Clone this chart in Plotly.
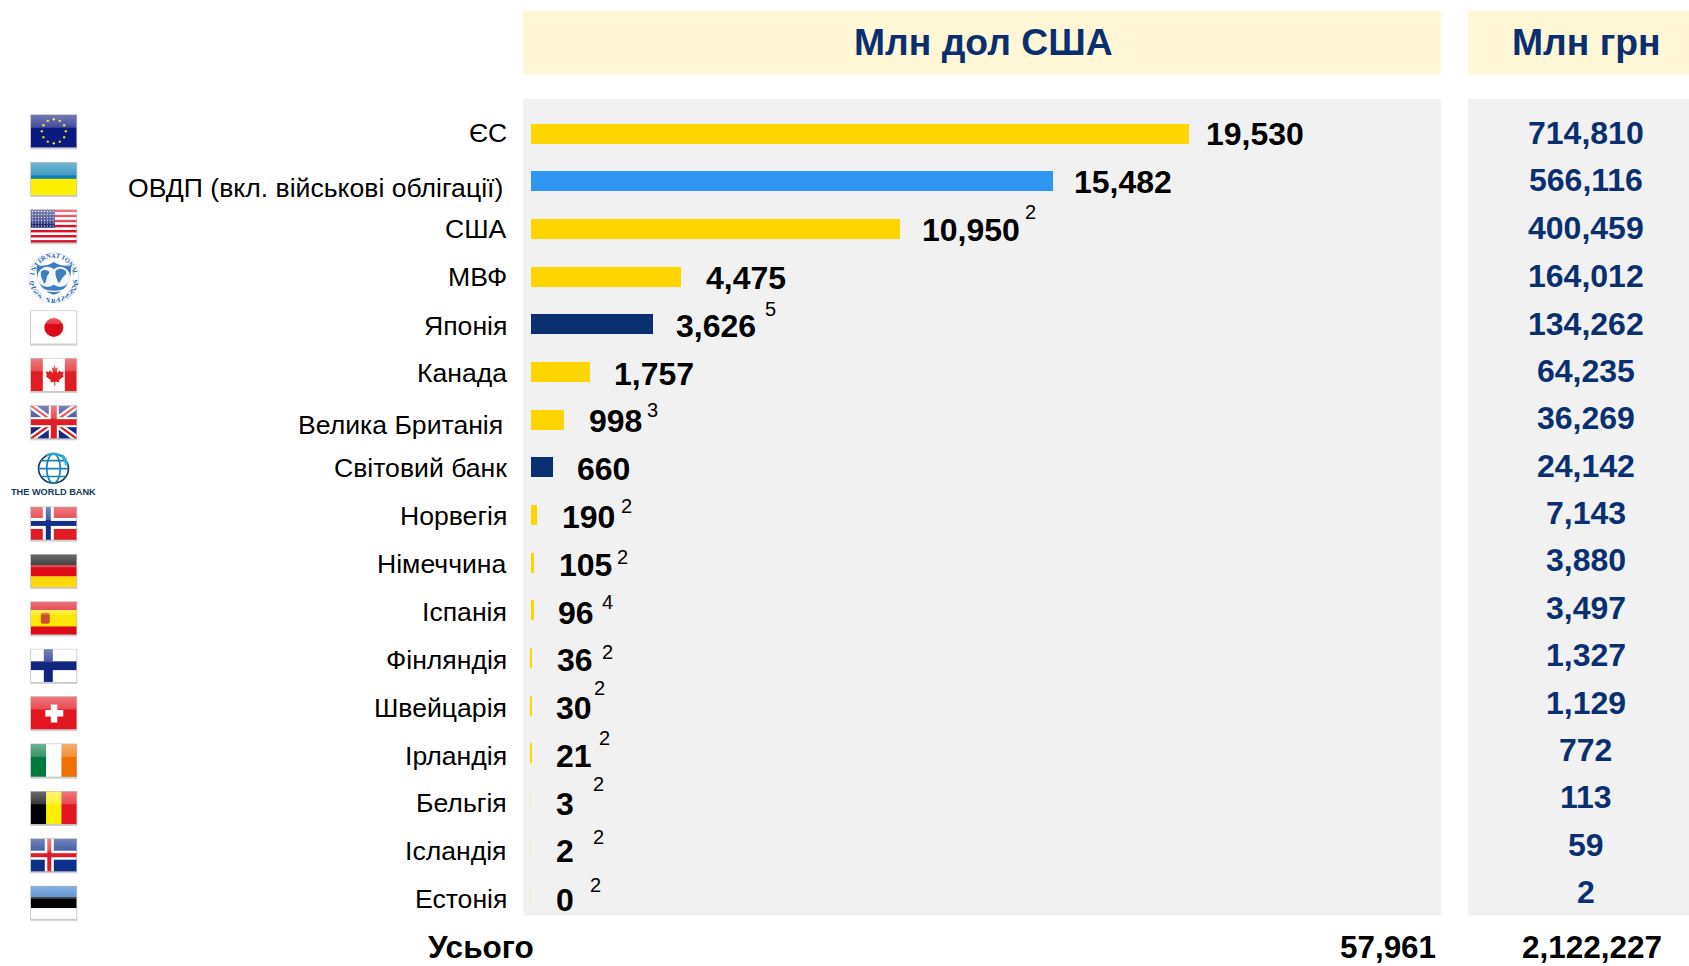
import base64
import math
import plotly.graph_objects as go

# ---------- data ----------
countries = ["ЄС", "ОВДП (вкл. військові облігації)", "США", "МВФ", "Японія", "Канада",
             "Велика Британія", "Світовий банк", "Норвегія", "Німеччина", "Іспанія",
             "Фінляндія", "Швейцарія", "Ірландія", "Бельгія", "Ісландія", "Естонія"]
usd_mln = [19530, 15482, 10950, 4475, 3626, 1757, 998, 660, 190, 105, 96, 36, 30, 21, 3, 2, 0]
uah_mln = [714810, 566116, 400459, 164012, 134262, 64235, 36269, 24142, 7143, 3880, 3497,
           1327, 1129, 772, 113, 59, 2]
footnotes = ["", "", "2", "", "5", "", "3", "", "2", "2", "4", "2", "2", "2", "2", "2", "2"]
bar_groups = ["g", "b", "g", "g", "n", "g", "g", "n", "g", "g", "g", "g", "g", "g", "p", "p", "p"]
total_label = "Усього"
total_usd = 57961
total_uah = 2122227
header_usd = "Млн дол США"
header_uah = "Млн грн"
world_bank_text = "THE WORLD BANK"
imf_top_text = "INTERNATIONAL"
imf_bottom_text = "MONETARY FUND"

# ---------- style / layout ----------
W, H = 1689, 966
S = W / 1568
GOLD, BLUE, NAVY, PALE = "#FFD500", "#2E96F0", "#0A2F70", "#F5EAC0"
group_color = {"g": GOLD, "b": BLUE, "n": NAVY, "p": PALE}
FONT = "Liberation Sans, Arial, sans-serif"
X0_PX, PX_PER_UNIT = 530.5, 0.03372
ROW0, ROW_STEP = 124 * S, 44.25 * S

label_y = [123.7, 174.7, 212.7, 257.3, 302.3, 346.3, 394.7, 434.7, 479.3, 523.7, 568.3, 612.3, 657.3, 702.3, 745.7, 790.3, 834.7]
label_right = [471, 467, 471, 471, 471, 471, 467, 471, 471, 471, 471, 471, 471, 471, 471, 471, 471]
value_gap = [14.5, 19, 19.3, 21.5, 21, 22, 21.7, 21.5, 22, 22, 21.7, 23, 22, 22, 22.7, 22.7, 22.7]
value_y = [124.3, 169.3, 213.3, 258, 303, 347, 391, 435, 480, 524.5, 569, 613, 657, 702, 746, 790, 835.3]
uah_y = [123.6, 167, 211.6, 256, 300.6, 344, 388, 432.6, 476, 520, 564, 608, 652.6, 696, 740, 784, 828]
note_x = [0, 0, 957, 0, 715, 0, 606, 0, 582, 577.5, 564, 564, 557, 561, 556, 556, 553]
note_y = [0, 0, 197, 0, 287, 0, 381, 0, 470, 517, 559, 605, 639, 685, 728, 777, 822]
flag_y = [122.3, 166.5, 210.4, 258, 304.4, 348.4, 392.4, 435, 486.4, 530.4, 574.4, 618.4, 662.4, 706.4, 750.4, 794.4, 838.4]


def px(x):
    return x / W


def py(y):
    return 1 - y / H


# ---------- flags as small SVG pictures ----------
def stripes_h(cols):
    h = 33 / len(cols)
    return "".join(f'<rect x="0" y="{i*h}" width="46" height="{h+.3}" fill="{c}"/>' for i, c in enumerate(cols))


def stripes_v(cols):
    w = 46 / len(cols)
    return "".join(f'<rect x="{i*w}" y="0" width="{w+.3}" height="33" fill="{c}"/>' for i, c in enumerate(cols))


def nordic(bg, cross_out, cross_in):
    s = f'<rect width="46" height="33" fill="{bg}"/>'
    if cross_out:
        s += f'<rect x="12" width="11" height="33" fill="{cross_out}"/><rect y="11" width="46" height="11" fill="{cross_out}"/>'
    s += f'<rect x="15" width="5" height="33" fill="{cross_in}"/><rect y="14" width="46" height="5" fill="{cross_in}"/>'
    return s


def eu():
    s = '<rect width="46" height="33" fill="#0A1A7E"/>'
    for i in range(12):
        a = i * math.pi / 6
        s += f'<circle cx="{23+12*math.cos(a):.2f}" cy="{16.5+12*math.sin(a):.2f}" r="1.2" fill="#F2D21A"/>'
    return s


def usa():
    s = stripes_h(["#D8142A", "#FFFFFF"] * 6 + ["#D8142A"])
    s += '<rect width="24" height="18" fill="#1E2A78"/>'
    for r in range(6):
        for c in range(8):
            s += f'<circle cx="{2+c*2.9}" cy="{1.8+r*2.9}" r=".6" fill="#fff"/>'
    return s


def canada():
    return ('<rect width="46" height="33" fill="#fff"/><rect width="12" height="33" fill="#E01C24"/>'
            '<rect x="34" width="12" height="33" fill="#E01C24"/>'
            '<path d="M23 6l2 4 2-1-1 6 3-3 1 2 3-1-1 4 1 1-5 4 .5 2-4-.6v4h-1v-4l-4 .6.5-2-5-4 1-1-1-4 3 1 1-2 3 3-1-6 2 1z" fill="#E01C24"/>')


def uk():
    return ('<rect width="46" height="33" fill="#1C2A80"/>'
            '<path d="M0 0L46 33M46 0L0 33" stroke="#fff" stroke-width="6.5"/>'
            '<path d="M0 0L46 33M46 0L0 33" stroke="#E01C24" stroke-width="2.2"/>'
            '<rect x="18" width="10" height="33" fill="#fff"/><rect y="11.5" width="46" height="10" fill="#fff"/>'
            '<rect x="20" width="6" height="33" fill="#E01C24"/><rect y="13.5" width="46" height="6" fill="#E01C24"/>')


def japan():
    return '<rect width="46" height="33" fill="#fff"/><circle cx="23" cy="16.5" r="9.5" fill="#DE0A18"/>'


def spain():
    return (stripes_h(["#DE0A18", "#FFE800", "#FFE800", "#DE0A18"]) +
            '<rect x="10" y="11" width="9" height="11" rx="2" fill="#C8502A"/>')


def swiss():
    return ('<rect width="46" height="33" fill="#E31520"/><rect x="20" y="8" width="6.5" height="18" fill="#fff"/>'
            '<rect x="14.5" y="13.5" width="18" height="6.5" fill="#fff"/>')


def iceland():
    return ('<rect width="46" height="33" fill="#0C2F8A"/><rect x="14" width="9" height="33" fill="#fff"/>'
            '<rect y="12" width="46" height="9" fill="#fff"/><rect x="16.5" width="4" height="33" fill="#E01C24"/>'
            '<rect y="14.5" width="46" height="4" fill="#E01C24"/>')


flag_bodies = {
    0: eu(), 1: stripes_h(["#0E7FB4", "#FFF000"]), 2: usa(), 4: japan(), 5: canada(), 6: uk(),
    8: nordic("#E01C24", "#fff", "#12308A"), 9: stripes_h(["#000", "#DE0A18", "#FFD80A"]), 10: spain(),
    11: nordic("#fff", None, "#12267E").replace('x="15" width="5"', 'x="13" width="9"').replace('y="14" width="46" height="5"', 'y="12" width="46" height="9"'),
    12: swiss(), 13: stripes_v(["#007A3D", "#fff", "#F07000"]), 14: stripes_v(["#000", "#FFEE00", "#E31520"]),
    15: iceland(), 16: stripes_h(["#2E75C8", "#000", "#fff"]),
}


def uri(svg):
    return "data:image/svg+xml;base64," + base64.b64encode(svg.encode()).decode()


def flag_uri(body):
    return uri(
        '<svg xmlns="http://www.w3.org/2000/svg" viewBox="-1 -1 48 36" width="48" height="36">'
        '<defs><linearGradient id="g" x1="0" y1="0" x2="0" y2="1"><stop offset="0" stop-color="#fff" stop-opacity=".42"/>'
        '<stop offset="1" stop-color="#fff" stop-opacity=".22"/></linearGradient></defs>'
        '<rect x="-.6" y="-.2" width="47.2" height="35" fill="#999" opacity=".45"/>'
        f'<svg x="0" y="0" width="46" height="33" viewBox="0 0 46 33">{body}</svg>'
        '<rect width="46" height="13" fill="url(#g)"/>'
        '<rect width="46" height="33" fill="none" stroke="#bbb" stroke-width=".4"/></svg>')


imf_svg = uri(
    '<svg xmlns="http://www.w3.org/2000/svg" viewBox="0 0 100 100" width="100" height="100">'
    '<circle cx="50" cy="50" r="49" fill="#fff"/>'
    '<circle cx="50" cy="50" r="47" fill="none" stroke="#5C8FCB" stroke-width="1.2" stroke-dasharray="1.5 2"/>'
    '<path d="M50 20C62 28 74 28 82 26C84 50 78 72 50 82C22 72 16 50 18 26C26 28 38 28 50 20z" fill="#3F7CC4"/>'
    '<circle cx="38" cy="48" r="19" fill="#F4F8FC"/><circle cx="62" cy="48" r="19" fill="#F4F8FC"/>'
    '<path d="M26 38c6-5 12-3 15 0 1 5-3 6-4 10-1 5-2 12-5 13-3-6-8-15-6-23z" fill="#3F7CC4"/>'
    '<path d="M54 36c6-5 14-4 19 2 2 6-4 8-7 12-3 3-4 10-7 9-3-6-8-17-5-23z" fill="#3F7CC4"/>'
    '<path d="M28 70c8 7 36 7 44 0" fill="none" stroke="#fff" stroke-width="2.5"/></svg>')

wb_svg = uri(
    '<svg xmlns="http://www.w3.org/2000/svg" viewBox="0 0 100 100" width="100" height="100">'
    '<g fill="none" stroke="#1B3F66" stroke-width="5">'
    '<circle cx="50" cy="50" r="44"/><ellipse cx="50" cy="50" rx="20" ry="44" stroke="#1B7FB8"/>'
    '<path d="M6 50H94M14 26H86M14 74H86" stroke="#1B7FB8"/>'
    '<path d="M74 10A44 44 0 0 1 88 40" stroke="#22B4E6" stroke-width="9"/>'
    '<path d="M30 10A44 44 0 0 1 70 10" stroke="#22A8DE" stroke-width="7"/></g></svg>')

images = []
for i, yy in enumerate(flag_y):
    if i == 3:
        src, w, h, cx = imf_svg, 53, 53, 53.8
    elif i == 7:
        src, w, h, cx = wb_svg, 34, 33, 53.5
    else:
        src, w, h, cx = flag_uri(flag_bodies[i]), 48, 36, 53.8
    cy = yy * S
    images.append(dict(source=src, xref="paper", yref="paper", x=px(cx - w / 2), y=py(cy - h / 2),
                       sizex=w / W, sizey=h / H, sizing="stretch", xanchor="left", yanchor="top", layer="above"))

# ---------- figure ----------
bar_line_w = [1 if v == 0 else 0 for v in usd_mln]
fig = go.Figure(go.Bar(
    y=list(range(len(countries))), x=usd_mln, orientation="h", width=20 / ROW_STEP,
    marker=dict(color=[group_color[g] for g in bar_groups], line=dict(width=bar_line_w, color=PALE)),
    hovertext=countries, hoverinfo="text+x"))


def note(text, x, y, size, color="#000", bold=False, anchor="center", family=FONT, angle=0):
    if bold:
        text = f"<b>{text}</b>"
    fig.add_annotation(text=text, xref="paper", yref="paper", x=px(x), y=py(y), xanchor=anchor, yanchor="middle",
                       showarrow=False, textangle=angle, font=dict(size=size, color=color, family=family),
                       borderpad=0, borderwidth=0)


for i, name in enumerate(countries):
    note(name, label_right[i] * S, label_y[i] * S, 26.6, anchor="right")
    fig.add_annotation(text=f"<b>{usd_mln[i]:,}</b>", x=usd_mln[i], y=i, xref="x", yref="y", xanchor="left",
                       yanchor="middle", xshift=value_gap[i] * S,
                       yshift=-(value_y[i] * S - (ROW0 + ROW_STEP * i)), showarrow=False,
                       font=dict(size=32, color="#000", family=FONT), borderpad=0)
    note(f"<b>{uah_mln[i]:,}</b>", 1472 * S, uah_y[i] * S, 32, color=NAVY)
    if footnotes[i]:
        note(footnotes[i], note_x[i] * S, note_y[i] * S, 20)

note(header_usd, 913 * S, 39 * S, 37.3, color=NAVY, bold=True)
note(header_uah, 1472.5 * S, 39 * S, 37.3, color=NAVY, bold=True)
note(total_label, 446.5 * S, 879.5 * S, 31.5, bold=True)
note(f"{total_usd:,}", 1333.5 * S, 879.5 * S, 31.4, bold=True, anchor="right")
note(f"{total_uah:,}", 1478 * S, 879.5 * S, 31.5, bold=True)
note(world_bank_text, 53.5, 491.5, 9.2, color="#123A5C", bold=True)

# ring lettering of the IMF seal, one small rotated letter at a time
seal_x, seal_y, seal_r = 53.8, flag_y[3] * S, 22.5
for text, start, step, sign in [(imf_top_text, -78, 13, 1), (imf_bottom_text, 78, -13, -1)]:
    for k, ch in enumerate(text):
        a = start + k * step
        if ch == " ":
            continue
        x = seal_x + seal_r * math.sin(math.radians(a))
        y = seal_y - seal_r * math.cos(math.radians(a)) * sign
        note(ch, x, y, 6.5, color="#2A63AE", bold=True, family="Liberation Serif, serif", angle=a)

shapes = []
for x0, x1, y0, y1, c in [(485.5, 1338, 10, 69, "#FFF7D6"), (1363, 1568, 10, 69, "#FFF7D6"),
                          (485.5, 1338, 92, 850, "#F1F1F1"), (1363, 1568, 92, 850, "#F1F1F1")]:
    shapes.append(dict(type="rect", xref="paper", yref="paper", x0=px(x0 * S), x1=px(x1 * S), y0=py(y0 * S),
                       y1=py(y1 * S), fillcolor=c, line_width=0, layer="below"))

fig.update_layout(
    width=W, height=H, autosize=False, margin=dict(l=0, r=0, t=0, b=0, pad=0),
    paper_bgcolor="#FFFFFF", plot_bgcolor="rgba(0,0,0,0)", showlegend=False, bargap=0,
    shapes=shapes, images=images, font=dict(family=FONT),
    xaxis=dict(range=[-X0_PX / PX_PER_UNIT, (W - X0_PX) / PX_PER_UNIT], visible=False, fixedrange=True),
    yaxis=dict(range=[(H - ROW0) / ROW_STEP, -ROW0 / ROW_STEP], visible=False, fixedrange=True),
)

fig.write_html("out.html", post_script="document.body.style.margin='0';document.body.style.overflow='hidden';",
               config={"displayModeBar": False})
